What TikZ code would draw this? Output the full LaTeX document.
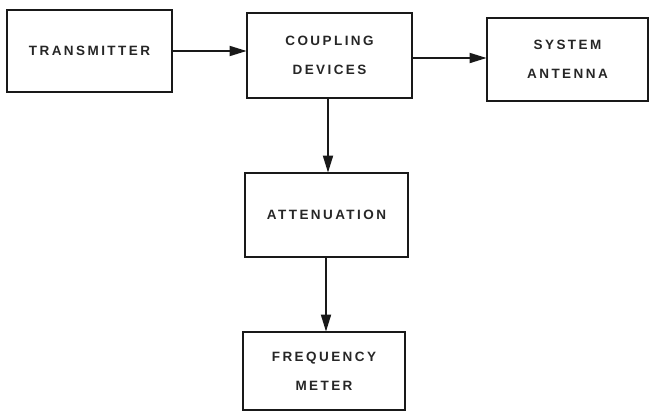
\documentclass[tikz,border=0pt]{standalone}
\usepackage{fontspec}
\setmainfont{Liberation Sans}[LetterSpace=18]
\usetikzlibrary{arrows.meta}
\tikzset{
  blk/.style={draw=black!90, line width=1.8pt, rectangle, inner sep=0pt, align=center,
    font=\fontsize{13.5}{29}\selectfont\bfseries, text=black!85},
  flow/.style={draw=black!90, line width=1.8pt, -{Triangle[length=17pt,width=10pt]}, shorten >=-0.5pt}
}
\begin{document}
\begin{tikzpicture}[x=1pt,y=-1pt]
\useasboundingbox (0,0) rectangle (651,413);
\node[blk, minimum width=165pt, minimum height=82pt] (t) at (89.5,51) {TRANSMITTER};
\node[blk, minimum width=165pt, minimum height=85pt] (c) at (329.5,55.5) {COUPLING\\DEVICES};
\node[blk, minimum width=161pt, minimum height=83pt] (a) at (567.5,59.5) {SYSTEM\\ANTENNA};
\node[blk, minimum width=163pt, minimum height=84pt] (at) at (326.5,215) {ATTENUATION};
\node[blk, minimum width=162pt, minimum height=78pt] (f) at (324,371) {FREQUENCY\\METER};
\draw[flow] (t.east) -- (t.east -| c.west);
\draw[flow] ([yshift=-2.5pt]c.east) -- ([yshift=-2.5pt]c.east -| a.west);
\draw[flow] ([xshift=-1.5pt]c.south) -- ([xshift=-1.5pt]c.south |- at.north);
\draw[flow] ([xshift=-0.5pt]at.south) -- ([xshift=-0.5pt]at.south |- f.north);
\end{tikzpicture}
\end{document}
